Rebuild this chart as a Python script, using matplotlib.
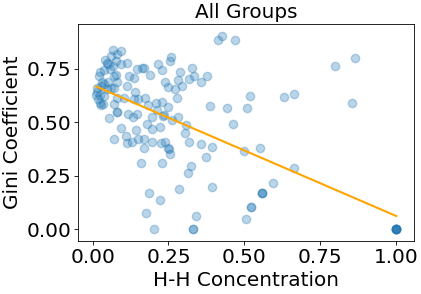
import numpy as np
import matplotlib
matplotlib.use("Agg")
import matplotlib.pyplot as plt

# H-H concentration (x) and Gini coefficient (y)
hh = [0.413, 0.425, 0.469, 0.799, 0.864, 0.854, 0.630, 0.663, 0.663,
      0.519, 0.510, 0.444, 0.387, 0.463, 0.499, 0.552, 0.594,
      0.559, 0.559, 0.559, 0.521, 0.521, 0.505,
      0.332, 0.332, 0.342, 0.203, 0.177, 0.223, 0.186, 0.283, 0.394,
      0.315, 0.325, 0.374, 0.356, 0.392, 0.318, 0.305, 0.309,
      0.378, 0.358, 0.334, 0.328, 0.318, 0.295, 0.288, 0.282, 0.277, 0.271,
      0.280, 0.262, 0.258, 0.255, 0.230, 0.239, 0.247, 0.214,
      0.250, 0.227, 0.209, 0.236, 0.233, 0.213, 0.221, 0.195, 0.197,
      0.238, 0.225, 0.247, 0.252, 0.255, 0.228, 0.197, 0.170, 0.170, 0.160,
      0.190, 0.170, 0.164, 0.145, 0.137, 0.121, 0.115, 0.093,
      0.172, 0.148, 0.140, 0.137, 0.181, 0.113, 0.104,
      0.118, 0.132, 0.145, 0.178, 0.143, 0.149, 0.112, 0.129, 0.111, 0.095,
      0.071, 0.055, 0.082, 0.082, 0.080, 0.071,
      0.077, 0.081, 0.094, 0.068, 0.061, 0.077, 0.067, 0.047, 0.042, 0.052,
      0.056, 0.039, 0.026, 0.021, 0.070,
      0.069, 0.061, 0.052, 0.038, 0.031, 0.027, 0.046, 0.016, 0.014, 0.011,
      0.023, 0.019, 0.025, 0.027, 0.035, 0.038, 0.082,
      1.0, 1.0, 1.0, 1.0, 1.0, 1.0, 1.0]
gini = [0.887, 0.904, 0.887, 0.763, 0.801, 0.589, 0.617, 0.631, 0.287,
        0.625, 0.568, 0.568, 0.575, 0.490, 0.366, 0.381, 0.217,
        0.170, 0.170, 0.170, 0.104, 0.104, 0.049,
        0.0, 0.0, 0.060, 0.0, 0.075, 0.138, 0.170, 0.188, 0.198,
        0.264, 0.297, 0.339, 0.400, 0.386, 0.408, 0.452, 0.487,
        0.716, 0.691, 0.716, 0.754, 0.702, 0.669, 0.735, 0.697, 0.612, 0.655,
        0.527, 0.512, 0.805, 0.787, 0.746, 0.688, 0.664, 0.772,
        0.570, 0.593, 0.592, 0.535, 0.531, 0.556, 0.476, 0.523, 0.468,
        0.408, 0.405, 0.381, 0.374, 0.350, 0.311, 0.408, 0.421, 0.381, 0.311,
        0.722, 0.755, 0.754, 0.750, 0.706, 0.719, 0.777, 0.774,
        0.612, 0.609, 0.641, 0.609, 0.581, 0.669, 0.612,
        0.537, 0.526, 0.538, 0.491, 0.463, 0.424, 0.405, 0.410, 0.436, 0.471,
        0.421, 0.520, 0.546, 0.546, 0.612, 0.586,
        0.722, 0.821, 0.832, 0.840, 0.810, 0.785, 0.763, 0.777, 0.790, 0.774,
        0.750, 0.743, 0.735, 0.719, 0.716,
        0.659, 0.659, 0.691, 0.680, 0.688, 0.669, 0.656, 0.659, 0.641, 0.630,
        0.628, 0.609, 0.590, 0.581, 0.586, 0.625, 0.688,
        0.0, 0.0, 0.0, 0.0, 0.0, 0.0, 0.0]

# fitted line as drawn (intercept, slope)
fit_b = 0.675
fit_m = -0.614

fig = plt.figure(figsize=(4.21, 2.94), dpi=100)
ax = fig.add_axes([0.186, 0.181, 0.797, 0.737])

ax.scatter(hh, gini, alpha=0.3, color='#1f77b4')
xs = np.array([min(hh), max(hh)])
ax.plot(xs, fit_b + fit_m * xs, color='orange')

ax.set_xlim(-0.047, 1.058)
ax.set_ylim(-0.055, 0.96)
ax.set_xticks([0.0, 0.25, 0.5, 0.75, 1.0])
ax.set_yticks([0.0, 0.25, 0.5, 0.75])
ax.tick_params(labelsize=14.4, length=2.6, width=0.6, pad=2.5)
for s in ax.spines.values():
    s.set_linewidth(0.6)
ax.set_xlabel('H-H Concentration', fontsize=14.4, labelpad=2.9)
ax.set_ylabel('Gini Coefficient', fontsize=14.4, labelpad=2.9)
ax.set_title('All Groups', fontsize=14.4, pad=4.3)

fig.savefig('out.png', dpi=100)
